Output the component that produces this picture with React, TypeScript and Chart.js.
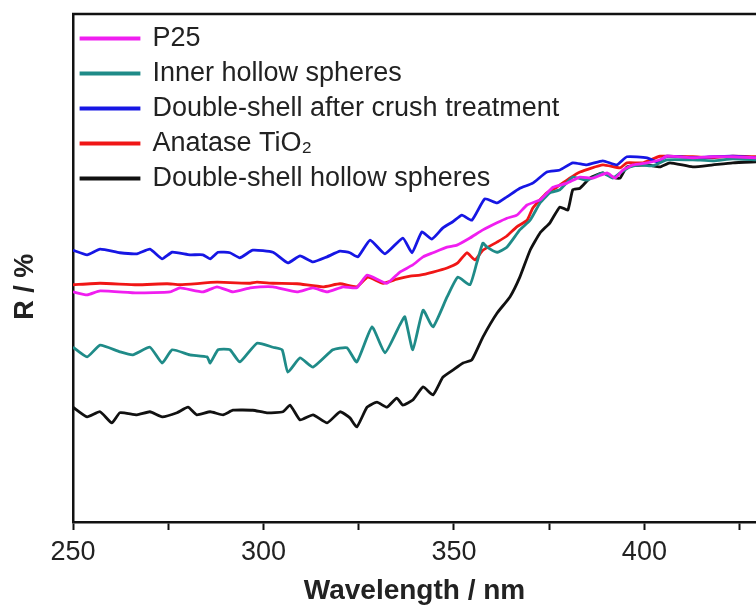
import React, { useEffect, useRef } from "react";
import { Chart, registerables } from "chart.js";

Chart.register(...registerables);

const FONT = "'Liberation Sans', Arial, Helvetica, sans-serif";

// [wavelength (nm), R (%)]
const p25: [number, number][] = [
  [250, 45.3], [253.7, 44.7], [257.1, 45.5], [266.8, 45.1], [275.5, 45.3], [278.1, 46.1],
  [284.1, 45.3], [287.8, 46.3], [292.0, 45.3], [296.5, 46.1], [299.1, 46.3], [302.5, 46.3],
  [308.8, 45.3], [313.0, 46.1], [316.7, 45.3], [320.9, 46.3], [324.5, 46.1], [327.2, 48.6],
  [332.4, 47.0], [335.8, 49.2], [339.2, 50.6], [341.9, 52.2], [344.5, 53.0], [348.2, 54.1],
  [350.8, 54.5], [354.2, 55.9], [357.6, 57.5], [361.3, 58.9], [363.9, 59.8], [366.5, 60.4],
  [369.2, 62.4], [372.6, 63.4], [376.0, 65.9], [379.7, 66.7], [383.1, 67.9], [386.5, 67.7],
  [390.2, 68.7], [392.3, 67.7], [394.4, 69.3], [397.0, 70.3], [400.7, 70.7], [404.1, 71.3],
  [405.9, 72.0], [412.7, 71.7], [418.0, 71.9], [423.2, 71.9], [429.3, 71.7],
];

const innerHollow: [number, number][] = [
  [250, 34.4], [253.7, 32.5], [257.1, 34.8], [262.3, 33.5], [265.7, 32.9], [270.2, 34.4],
  [273.4, 31.3], [276.0, 33.9], [280.7, 32.9], [285.2, 32.5], [286.0, 31.3], [288.1, 33.9],
  [291.2, 33.9], [293.8, 31.5], [298.3, 35.2], [302.5, 34.4], [304.9, 33.9], [306.4, 29.5],
  [309.6, 32.3], [313.0, 30.5], [318.2, 33.9], [321.9, 34.3], [324.5, 31.5], [328.5, 38.4],
  [331.9, 33.3], [335.8, 38.8], [337.1, 40.4], [339.2, 33.9], [341.9, 41.7], [344.5, 38.4],
  [348.2, 44.3], [351.0, 48.2], [354.2, 46.7], [356.0, 51.0], [357.6, 54.9], [358.7, 54.1],
  [361.3, 53.1], [363.9, 54.1], [367.3, 57.5], [370.0, 59.4], [372.6, 62.8], [375.2, 64.8],
  [377.8, 65.4], [381.2, 67.9], [384.9, 67.3], [389.1, 68.7], [391.7, 67.7], [393.6, 68.7],
  [396.2, 69.9], [398.8, 70.3], [402.2, 70.1], [405.9, 71.3], [412.7, 71.3], [418.0, 71.1],
  [423.2, 71.5], [429.3, 71.3],
];

const doubleShellCrushed: [number, number][] = [
  [250, 53.5], [253.7, 52.6], [257.1, 53.7], [262.3, 53.0], [266.8, 52.8], [270.2, 53.7],
  [273.4, 51.8], [276.0, 53.1], [280.7, 52.6], [284.1, 52.6], [286.0, 51.8], [288.1, 53.1],
  [291.2, 53.0], [293.8, 52.0], [297.2, 53.5], [302.5, 53.1], [306.4, 51.0], [309.6, 52.4],
  [313.0, 51.2], [316.7, 52.2], [320.1, 53.3], [322.7, 53.0], [324.8, 52.2], [328.0, 55.5],
  [331.9, 52.8], [336.6, 55.9], [339.0, 53.0], [341.6, 57.1], [344.2, 55.7], [347.1, 57.9],
  [349.7, 59.1], [352.1, 60.4], [354.7, 59.4], [358.1, 63.6], [361.3, 62.8], [363.9, 64.0],
  [367.3, 65.7], [370.7, 66.7], [374.4, 68.9], [377.8, 69.3], [381.2, 70.7], [384.9, 70.3],
  [389.1, 71.1], [392.8, 70.3], [395.4, 71.9], [400.7, 71.7], [403.3, 70.9], [405.9, 72.0],
  [412.7, 71.7], [418.0, 71.9], [423.2, 72.0], [429.3, 71.7],
];

const anatase: [number, number][] = [
  [250, 46.7], [257.1, 47.0], [266.8, 46.7], [274.7, 46.9], [278.1, 46.7], [287.8, 47.2],
  [296.5, 47.0], [298.3, 47.2], [302.5, 47.0], [308.8, 46.9], [315.6, 46.3], [320.1, 46.9],
  [324.5, 46.3], [327.4, 48.2], [331.4, 47.0], [335.0, 47.8], [338.5, 48.4], [341.1, 48.6],
  [344.5, 49.2], [348.2, 50.0], [351.0, 51.0], [353.4, 53.0], [355.5, 51.6], [357.6, 53.5],
  [361.3, 55.1], [363.9, 56.3], [366.5, 58.1], [369.2, 59.4], [370.7, 61.8], [374.4, 64.8],
  [377.0, 65.9], [380.4, 67.7], [383.1, 68.9], [389.1, 70.3], [393.6, 69.7], [395.4, 70.7],
  [399.6, 70.7], [404.1, 72.0], [412.7, 71.9], [418.0, 71.7], [423.2, 72.0], [429.3, 71.9],
];

const doubleShellHollow: [number, number][] = [
  [250, 22.6], [253.7, 20.7], [257.1, 21.7], [260.2, 19.5], [262.3, 21.5], [266.8, 21.1],
  [270.2, 21.7], [273.4, 20.7], [277.3, 21.5], [280.2, 22.6], [282.5, 21.1], [286.0, 21.7],
  [289.4, 21.1], [292.0, 22.0], [297.2, 22.0], [300.9, 21.5], [305.1, 21.7], [307.0, 23.0],
  [309.6, 20.1], [313.0, 21.1], [316.7, 19.5], [320.1, 21.7], [322.7, 20.5], [324.5, 18.7],
  [327.2, 22.6], [329.8, 23.6], [332.4, 22.6], [335.0, 24.4], [336.6, 23.0], [339.2, 24.0],
  [341.9, 26.6], [344.5, 25.0], [347.1, 28.5], [349.7, 29.9], [352.4, 31.3], [354.7, 31.9],
  [357.6, 36.4], [361.3, 41.1], [364.7, 44.3], [367.3, 48.2], [370.0, 53.5], [372.6, 56.9],
  [375.2, 58.9], [377.8, 62.0], [379.9, 61.4], [381.2, 65.4], [383.1, 65.7], [385.7, 67.7],
  [389.1, 68.7], [391.7, 67.9], [393.6, 67.7], [395.4, 69.9], [400.7, 70.3], [404.1, 69.9],
  [406.7, 70.7], [412.7, 69.9], [418.0, 70.3], [423.2, 70.7], [429.3, 70.9],
];

const seriesLabels = [
  "P25",
  "Inner hollow spheres",
  "Double-shell after crush treatment",
  "Anatase TiO\u2082",
  "Double-shell hollow spheres",
];
const seriesData = [p25, innerHollow, doubleShellCrushed, anatase, doubleShellHollow];
const seriesColors = ["#f01ef0", "#1f8b88", "#1616e4", "#f01616", "#111111"];

const xMin = 250;
const xMax = 429.3;

const topBorder = {
  id: "topBorder",
  afterDatasetsDraw(chart: any) {
    const { ctx, chartArea } = chart;
    ctx.save();
    ctx.strokeStyle = "#111";
    ctx.lineWidth = 2.5;
    ctx.beginPath();
    ctx.moveTo(chartArea.left - 1, chartArea.top);
    ctx.lineTo(chartArea.right, chartArea.top);
    ctx.stroke();
    ctx.restore();
  },
};

export default function App() {
  const ref = useRef<HTMLCanvasElement | null>(null);

  useEffect(() => {
    document.body.style.margin = "0";
    if (!ref.current) return;
    const chart = new Chart(ref.current, {
      type: "line",
      data: {
        datasets: seriesData.map((d, i) => ({
          label: seriesLabels[i],
          data: d.map(([x, y]) => ({ x, y })),
          borderColor: seriesColors[i],
          backgroundColor: seriesColors[i],
          borderWidth: 2.8,
          pointRadius: 0,
          tension: 0.15,
          fill: false,
        })),
      },
      options: {
        animation: false,
        responsive: false,
        maintainAspectRatio: false,
        layout: { padding: { top: 14, left: 0, right: 0, bottom: 0 } },
        plugins: {
          tooltip: { enabled: false },
          legend: {
            position: "chartArea" as any,
            align: "start",
            title: {
              display: true,
              text: "",
              font: { family: FONT, size: 1, lineHeight: 1 },
              padding: { top: 8, bottom: 8 },
            },
            labels: {
              boxWidth: 58,
              boxHeight: 1,
              padding: 8,
              color: "#222",
              font: { family: FONT, size: 27, lineHeight: 1 },
            },
          },
        },
        scales: {
          x: {
            type: "linear",
            position: "bottom",
            min: xMin,
            max: xMax,
            afterFit: (s: any) => {
              s.height = 86;
            },
            ticks: {
              stepSize: 25,
              includeBounds: false,
              autoSkip: false,
              maxRotation: 0,
              padding: 6,
              color: "#222",
              font: { family: FONT, size: 27 },
              callback: (v: any) => (Number(v) % 50 === 0 ? String(v) : ""),
            },
            grid: {
              drawOnChartArea: false,
              drawTicks: true,
              tickLength: 8,
              tickColor: "#111",
              tickWidth: 2,
            },
            border: { display: true, color: "#111", width: 2.5 },
            title: {
              display: true,
              text: "Wavelength / nm",
              color: "#222",
              font: { family: FONT, size: 28, weight: "bold" },
              padding: { top: 0, bottom: 0 },
            },
          },
          y: {
            type: "linear",
            min: 0,
            max: 100,
            afterFit: (s: any) => {
              s.width = 73;
            },
            ticks: { display: false },
            grid: { display: false },
            border: { display: true, color: "#111", width: 2.5 },
            title: {
              display: true,
              text: "R / %     ",
              color: "#222",
              font: { family: FONT, size: 27, weight: "bold" },
              padding: { top: 9, bottom: 0 },
            },
          },
        },
      },
      plugins: [topBorder],
    });
    return () => chart.destroy();
  }, []);

  return (
    <div style={{ width: 756, height: 608, background: "#fff" }}>
      <canvas ref={ref} width={756} height={608} style={{ display: "block" }} />
    </div>
  );
}
